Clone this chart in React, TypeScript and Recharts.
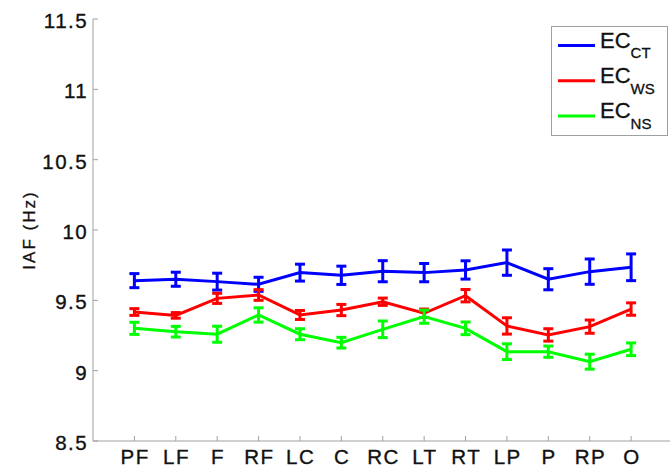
import React from 'react';
import { LineChart, Line, XAxis, YAxis, ErrorBar } from 'recharts';

const categories = ['PF', 'LF', 'F', 'RF', 'LC', 'C', 'RC', 'LT', 'RT', 'LP', 'P', 'RP', 'O'];
const ecCT = [9.64, 9.65, 9.633, 9.614, 9.697, 9.678, 9.707, 9.697, 9.716, 9.768, 9.65, 9.704, 9.735];
const ecCTErr = [0.05, 0.05, 0.06, 0.05, 0.06, 0.065, 0.075, 0.065, 0.065, 0.09, 0.075, 0.09, 0.095];
const ecWS = [9.417, 9.393, 9.514, 9.538, 9.396, 9.431, 9.49, 9.408, 9.533, 9.318, 9.254, 9.313, 9.438];
const ecWSErr = [0.024, 0.02, 0.036, 0.038, 0.032, 0.04, 0.026, 0.03, 0.044, 0.058, 0.044, 0.047, 0.044];
const ecNS = [9.301, 9.277, 9.259, 9.396, 9.259, 9.199, 9.294, 9.384, 9.301, 9.135, 9.135, 9.064, 9.152];
const ecNSErr = [0.043, 0.038, 0.057, 0.051, 0.039, 0.038, 0.059, 0.047, 0.045, 0.056, 0.04, 0.053, 0.045];
const yTicks = [8.5, 9, 9.5, 10, 10.5, 11, 11.5];
const xTicks = categories.map((_, i) => i + 1);

const series = [
  { key: 'ct', err: 'ctErr', base: 'EC', sub: 'CT', color: '#0000ff' },
  { key: 'ws', err: 'wsErr', base: 'EC', sub: 'WS', color: '#ff0000' },
  { key: 'ns', err: 'nsErr', base: 'EC', sub: 'NS', color: '#00ff00' },
];

const data = categories.map((c, i) => ({
  x: i + 1,
  name: c,
  ct: ecCT[i],
  ctErr: ecCTErr[i],
  ws: ecWS[i],
  wsErr: ecWSErr[i],
  ns: ecNS[i],
  nsErr: ecNSErr[i],
}));

const FONT = '"Liberation Sans", Arial, Helvetica, sans-serif';
const AXIS = '#a0a0a0';
const INK = '#111';

const BottomTick = (props: any) => {
  const { x, y, payload } = props;
  return (
    <g>
      <line x1={x} y1={y} x2={x} y2={y - 5} stroke={AXIS} />
      <text
        x={x + 0.75}
        y={y + 22.5}
        textAnchor="middle"
        fontSize={20.5}
        letterSpacing={1.5}
        fill={INK}
        stroke={INK}
        strokeWidth={0.35}
        fontFamily={FONT}
      >
        {categories[payload.value - 1]}
      </text>
    </g>
  );
};

const TopTick = (props: any) => {
  const { x, y } = props;
  return <line x1={x} y1={y} x2={x} y2={y + 5} stroke={AXIS} />;
};

const LeftTick = (props: any) => {
  const { x, y, payload } = props;
  return (
    <g>
      <line x1={x} y1={y} x2={x + 5} y2={y} stroke={AXIS} />
      <text
        x={x - 4.8}
        y={y + 9}
        textAnchor="end"
        fontSize={20.5}
        letterSpacing={1.5}
        fill={INK}
        stroke={INK}
        strokeWidth={0.35}
        fontFamily={FONT}
      >
        {String(payload.value)}
      </text>
    </g>
  );
};

const RightTick = (props: any) => {
  const { x, y } = props;
  return <line x1={x} y1={y} x2={x - 5} y2={y} stroke={AXIS} />;
};

const LegendBox = () => (
  <svg width={118} height={110} style={{ position: 'absolute', left: 551, top: 26, display: 'block' }}>
    <rect x={0.5} y={0.5} width={116} height={109} fill="#fff" stroke={AXIS} />
    {series.map((s, i) => (
      <g key={s.key}>
        <line x1={7} x2={44} y1={19.5 + i * 35.3} y2={19.5 + i * 35.3} stroke={s.color} strokeWidth={3} />
        <text x={49} y={21.7 + i * 35.3} fontSize={22} fill={INK} stroke={INK} strokeWidth={0.3} fontFamily={FONT}>
          {s.base}
          <tspan fontSize={15} dy={10.6}>{s.sub}</tspan>
        </text>
      </g>
    ))}
  </svg>
);

export default function App() {
  return (
    <div style={{ position: 'absolute', left: 0, top: 0, width: 670, height: 467, overflow: 'hidden', background: '#fff' }}>
      <LineChart width={680} height={467} data={data} margin={{ top: 19, right: 7.5, bottom: 0, left: 0 }}>
        <XAxis
          dataKey="x"
          type="number"
          domain={[0, 14]}
          ticks={xTicks}
          height={26}
          tickSize={0}
          tickMargin={0}
          tickLine={false}
          axisLine={{ stroke: AXIS }}
          tick={<BottomTick />}
          interval={0}
          allowDataOverflow
        />
        <XAxis
          xAxisId="top"
          orientation="top"
          dataKey="x"
          type="number"
          domain={[0, 14]}
          ticks={xTicks}
          height={0}
          tickSize={0}
          tickMargin={0}
          tickLine={false}
          axisLine={{ stroke: AXIS }}
          tick={<TopTick />}
          interval={0}
          allowDataOverflow
        />
        <YAxis
          type="number"
          domain={[8.5, 11.5]}
          ticks={yTicks}
          width={93}
          tickSize={0}
          tickMargin={0}
          tickLine={false}
          axisLine={{ stroke: AXIS }}
          tick={<LeftTick />}
          interval={0}
          allowDataOverflow
          label={{
            value: 'IAF (Hz)',
            angle: -90,
            position: 'insideLeft',
            dx: 24,
            dy: 0,
            style: {
              fontSize: 17,
              letterSpacing: 2,
              fill: INK,
              stroke: INK,
              strokeWidth: 0.3,
              fontFamily: FONT,
              textAnchor: 'middle',
            },
          }}
        />
        <YAxis
          yAxisId="right"
          orientation="right"
          type="number"
          domain={[8.5, 11.5]}
          ticks={yTicks}
          width={0}
          tickSize={0}
          tickMargin={0}
          tickLine={false}
          axisLine={{ stroke: AXIS }}
          tick={<RightTick />}
          interval={0}
          allowDataOverflow
        />
        {series.map((s) => (
          <Line
            key={s.key}
            dataKey={s.key}
            stroke={s.color}
            strokeWidth={3}
            dot={false}
            isAnimationActive={false}
          >
            <ErrorBar dataKey={s.err} direction="y" width={5} stroke={s.color} strokeWidth={3} isAnimationActive={false} />
          </Line>
        ))}
      </LineChart>
      <LegendBox />
    </div>
  );
}
